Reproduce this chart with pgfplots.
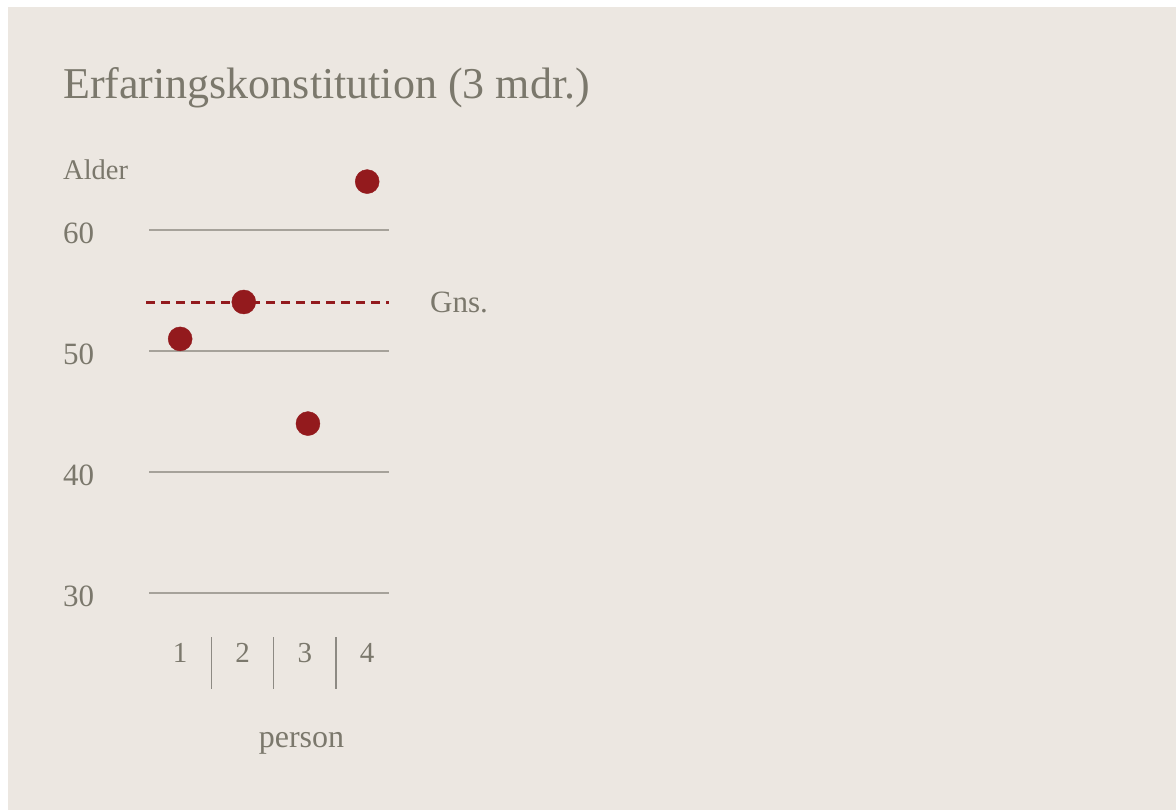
\documentclass[border=0pt]{standalone}
\usepackage{pgfplots}
\pgfplotsset{compat=1.18}
\usepackage{fontspec}
\setmainfont{Liberation Serif}
\definecolor{bg}{HTML}{ECE7E1}
\definecolor{txt}{HTML}{7B786C}
\definecolor{gridc}{HTML}{A6A29A}
\definecolor{dot}{HTML}{931A1D}
\begin{document}
\begin{tikzpicture}[x=1pt,y=1pt]
\path[use as bounding box, fill=white] (0,0) rectangle (1176,810);
\fill[bg] (8,0) rectangle (1176,803);
\begin{axis}[
  at={(149pt,217pt)}, anchor=south west,
  scale only axis, width=240pt, height=423.5pt,
  xmin=0.5, xmax=4.35, ymin=30, ymax=65,
  clip=false,
  axis line style={draw=none},
  major tick length=0pt,
  tick style={draw=none},
  xtick={1,2,3,4}, ytick={30,40,50,60},
  ymajorgrids, grid style={color=gridc, line width=1.3pt},
  /pgf/number format/assume math mode=true,
  tick label style={font=\fontsize{29}{32}\selectfont, text=txt, inner sep=0pt},
  xticklabel style={anchor=base, yshift=-70pt},
  yticklabel style={anchor=base west, xshift=-86pt, yshift=-14pt, font=\fontsize{31}{34}\selectfont},
]
\addplot[dot, line width=3pt, dash pattern=on 9pt off 6pt] coordinates {(0.454,54) (4.35,54)};
\addplot[only marks, mark=*, mark size=12pt, color=dot, mark options={draw=dot, fill=dot}] coordinates {(1,51) (2.02,54.05) (3.05,44) (4,64)};
\draw[color=gridc!85!black, line width=1.2pt] (axis cs:1.5,26.36) -- (axis cs:1.5,22.07);
\draw[color=gridc!85!black, line width=1.2pt] (axis cs:2.5,26.36) -- (axis cs:2.5,22.07);
\draw[color=gridc!85!black, line width=1.2pt] (axis cs:3.5,26.36) -- (axis cs:3.5,22.07);
\end{axis}
\node[anchor=base west, inner sep=0pt, text=txt, font=\fontsize{44}{50}\selectfont] at (63,711) {Erfaringskonstitution (3 mdr.)};
\node[anchor=base west, inner sep=0pt, text=txt, font=\fontsize{28.5}{32}\selectfont] at (63,630) {Alder};
\node[anchor=base, inner sep=0pt, text=txt, font=\fontsize{32}{36}\selectfont] at (301.5,62) {person};
\node[anchor=base west, inner sep=0pt, text=txt, font=\fontsize{31}{36}\selectfont] at (430,497) {Gns.};
\end{tikzpicture}
\end{document}
